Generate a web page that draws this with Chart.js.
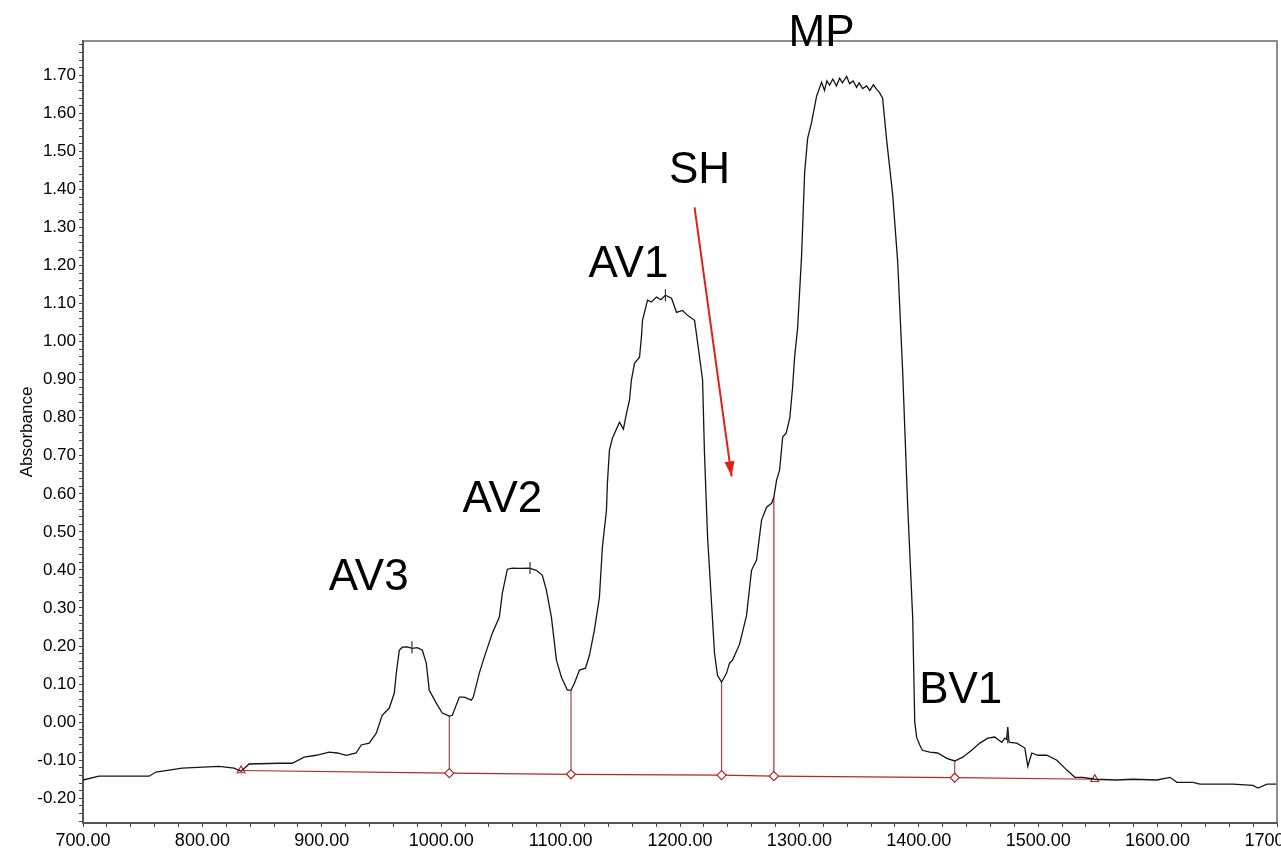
<!DOCTYPE html>
<html>
<head>
<meta charset="utf-8">
<title>Absorbance</title>
<script src="https://cdn.jsdelivr.net/npm/chart.js@4.4.1/dist/chart.umd.min.js"></script>
<style>
  html, body { margin: 0; padding: 0; background: #fff; }
</style>
</head>
<body>
<canvas id="absorbanceChart" width="1281" height="853"></canvas>
<script>
// spectrum trace
const specX = [700, 713.4, 755.3, 761.2, 783.0, 814.0, 826.6, 832.4, 839.1, 864.3, 875.2, 885.2, 895.3, 906.2, 912.9,
  920.5, 928.8, 933.0, 939.7, 945.6, 950.6, 956.5, 960.7, 962.4, 964.9, 967.4, 971.5, 975.8, 980.0, 984.2, 987.5,
  990.0, 995.9, 1000.9, 1006.8, 1009.3, 1015.2, 1019.4, 1025.2, 1026.9, 1031.9, 1036.1, 1042.8, 1048.7, 1051.2,
  1055.4, 1059.6, 1066.0, 1073.8, 1079.7, 1084.7, 1088.1, 1092.3, 1096.5, 1100.7, 1105.7, 1108.7, 1111.6, 1115.8,
  1120.8, 1124.1, 1128.3, 1132.5, 1135.0, 1138.4, 1139.2, 1140.9, 1143.4, 1149.3, 1152.6, 1155.2, 1157.7, 1159.3,
  1161.9, 1166.1, 1167.7, 1168.6, 1172.8, 1176.0, 1180.3, 1184.0, 1187.8, 1192.9, 1197.1, 1202.1, 1206.3, 1212.2,
  1216.4, 1218.9, 1220.5, 1223.1, 1226.4, 1228.9, 1231.4, 1234.8, 1239.0, 1241.5, 1244.0, 1249.9, 1255.7, 1259.9,
  1264.1, 1268.3, 1272.5, 1276.7, 1278.6, 1280.9, 1283.4, 1286.0, 1289.0, 1292.0, 1294.3, 1296.0, 1298.5, 1301.8,
  1304.4, 1306.9, 1310.2, 1314.4, 1318.6, 1321.0, 1323.0, 1325.3, 1328.0, 1331.0, 1333.7, 1336.0, 1339.6, 1342.0,
  1345.0, 1347.9, 1350.0, 1353.0, 1356.3, 1359.0, 1362.0, 1364.7, 1367.0, 1369.7, 1373.1, 1378.1, 1382.3, 1386.5,
  1390.7, 1394.9, 1396.6, 1398.2, 1400.8, 1403.0, 1409.1, 1415.8, 1423.4, 1430.1, 1436.8, 1444.3, 1451.1, 1457.8,
  1463.6, 1469.5, 1472.0, 1473.5, 1474.5, 1475.5, 1476.2, 1482.1, 1488.8, 1491.3, 1494.6, 1499.7, 1507.2, 1515.6,
  1524.0, 1530.7, 1537.4, 1547.4, 1565.9, 1579.3, 1599.4, 1610.3, 1616.2, 1629.6, 1635.5, 1663.1, 1679.9, 1684.1,
  1691.6, 1699.2];
const specY = [-0.152, -0.142, -0.142, -0.131, -0.121, -0.116, -0.121, -0.129, -0.110, -0.108, -0.108, -0.092, -0.087, -0.079, -0.081,
  -0.087, -0.081, -0.060, -0.055, -0.029, 0.018, 0.037, 0.076, 0.129, 0.189, 0.197, 0.198, 0.194, 0.196, 0.189, 0.155,
  0.084, 0.050, 0.024, 0.016, 0.018, 0.066, 0.066, 0.058, 0.066, 0.129, 0.171, 0.234, 0.276, 0.339,
  0.402, 0.405, 0.404, 0.405, 0.399, 0.386, 0.347, 0.276, 0.163, 0.118, 0.084, 0.084, 0.102, 0.137,
  0.142, 0.175, 0.242, 0.328, 0.460, 0.557, 0.628, 0.715, 0.746, 0.788, 0.770, 0.812, 0.846, 0.899,
  0.943, 0.959, 1.012, 1.056, 1.109, 1.104, 1.117, 1.110, 1.122, 1.114, 1.077, 1.082, 1.069, 1.056,
  0.959, 0.899, 0.707, 0.486, 0.313, 0.181, 0.123, 0.105, 0.129, 0.155, 0.163, 0.205, 0.280, 0.399,
  0.426, 0.531, 0.565, 0.575, 0.591, 0.636, 0.662, 0.749, 0.760, 0.800, 0.880, 0.960, 1.035, 1.224,
  1.445, 1.534, 1.576, 1.645, 1.682, 1.660, 1.685, 1.674, 1.690, 1.672, 1.692, 1.680, 1.697, 1.678,
  1.685, 1.668, 1.680, 1.665, 1.672, 1.660, 1.675, 1.663, 1.655, 1.640, 1.529, 1.387, 1.211, 0.920,
  0.568, 0.273, 0.000, -0.040, -0.060, -0.074, -0.079, -0.081, -0.095, -0.102, -0.092, -0.074, -0.055, -0.042,
  -0.039, -0.053, -0.042, -0.045, -0.013, -0.050, -0.053, -0.055, -0.068, -0.116, -0.081, -0.087, -0.087, -0.100,
  -0.126, -0.145, -0.145, -0.150, -0.152, -0.150, -0.152, -0.145, -0.158, -0.158, -0.163, -0.163, -0.166, -0.173,
  -0.163, -0.163];

// integration baseline, ends (triangles) and valley drops (diamonds)
const baseX = [832.4, 1006.8, 1108.7, 1234.8, 1278.6, 1430.1, 1547.4];
const baseY = [-0.127, -0.134, -0.137, -0.139, -0.142, -0.146, -0.150];
const dropTop = [null, 0.016, 0.084, 0.105, 0.591, -0.102, null];

// peak apex ticks
const apexX = [975.5, 1074.4, 1187.8, 1474.5];
const apexY = [0.197, 0.405, 1.122, -0.040];

// peak names
const peakNames = ['AV3', 'AV2', 'AV1', 'SH', 'MP', 'BV1'];
const peakNameX = [939.3, 1051.2, 1156.8, 1216.3, 1318.6, 1435.1];
const peakNameY = [0.347, 0.552, 1.169, 1.416, 1.776, 0.050];

// SH arrow
const arrowX = [1212.2, 1243.2];
const arrowY = [1.353, 0.646];

const xTickLabels = [700, 800, 900, 1000, 1100, 1200, 1300, 1400, 1500, 1600, 1700];
const yTickLabels = [-0.2, -0.1, 0, 0.1, 0.2, 0.3, 0.4, 0.5, 0.6, 0.7, 0.8, 0.9, 1.0, 1.1, 1.2, 1.3, 1.4, 1.5, 1.6, 1.7];

const FONT = '"Liberation Sans", Arial, sans-serif';

const xy = (xs, ys) => xs.map((x, i) => ({ x: x, y: ys[i] }));

const dropSets = [];
baseX.forEach((x, i) => {
    if (dropTop[i] === null) return;
    dropSets.push({
        type: 'line',
        data: [{ x: x, y: baseY[i] }, { x: x, y: dropTop[i] }],
        borderColor: i === 4 ? '#b22a2a' : '#a04848',
        borderWidth: 1.2,
        pointRadius: 0,
        order: 3
    });
});

const frame = {
    id: 'frame',
    beforeDatasetsDraw(chart) {
        const { ctx, chartArea: a } = chart;
        ctx.save();
        ctx.strokeStyle = '#6a6a6a';
        ctx.lineWidth = 1.5;
        ctx.beginPath();
        ctx.moveTo(a.left, a.top);
        ctx.lineTo(a.right, a.top);
        ctx.lineTo(a.right, a.bottom);
        ctx.stroke();
        ctx.restore();
    }
};

const notes = {
    id: 'notes',
    afterDraw(chart) {
        const { ctx, scales } = chart;
        const x = scales.x, y = scales.y;
        ctx.save();
        // arrow head
        const x0 = x.getPixelForValue(arrowX[0]), y0 = y.getPixelForValue(arrowY[0]);
        const x1 = x.getPixelForValue(arrowX[1]), y1 = y.getPixelForValue(arrowY[1]);
        const ang = Math.atan2(y1 - y0, x1 - x0);
        ctx.fillStyle = '#e0201b';
        ctx.translate(x1, y1);
        ctx.rotate(ang);
        ctx.beginPath();
        ctx.moveTo(0, 0);
        ctx.lineTo(-15, -5);
        ctx.lineTo(-15, 5);
        ctx.closePath();
        ctx.fill();
        ctx.restore();

        ctx.save();
        ctx.font = '44px ' + FONT;
        ctx.fillStyle = '#000';
        ctx.textAlign = 'center';
        ctx.textBaseline = 'alphabetic';
        peakNames.forEach((name, i) => {
            ctx.fillText(name, x.getPixelForValue(peakNameX[i]), y.getPixelForValue(peakNameY[i]));
        });
        ctx.restore();
    }
};

let chartInstance = null;

const renderChart = () => {
    const ctx = document.getElementById('absorbanceChart').getContext('2d');
    if (chartInstance) chartInstance.destroy();

    chartInstance = new Chart(ctx, {
        type: 'line',
        data: {
            datasets: [
                {
                    label: 'Absorbance',
                    data: xy(specX, specY),
                    borderColor: '#151515',
                    borderWidth: 1.3,
                    pointRadius: 0,
                    order: 1
                },
                {
                    label: 'Baseline',
                    data: xy(baseX, baseY),
                    borderColor: '#b02828',
                    borderWidth: 1.2,
                    pointStyle: baseX.map((v, i) => (i === 0 || i === baseX.length - 1) ? 'triangle' : 'rectRot'),
                    pointRadius: 4.5,
                    pointBackgroundColor: '#fff',
                    pointBorderColor: '#b02828',
                    pointBorderWidth: 1.2,
                    order: 2
                },
                ...dropSets,
                {
                    label: 'Apex',
                    data: xy(apexX, apexY),
                    showLine: false,
                    pointStyle: 'line',
                    rotation: 90,
                    pointRadius: 6,
                    pointBorderColor: '#333',
                    pointBorderWidth: 1.2,
                    order: 0
                },
                {
                    label: 'SH',
                    data: xy(arrowX, arrowY),
                    borderColor: '#e0201b',
                    borderWidth: 2,
                    pointRadius: 0,
                    order: 0
                }
            ]
        },
        options: {
            responsive: false,
            animation: false,
            layout: { padding: { top: 41, right: 4, left: 0, bottom: 0 }, autoPadding: false },
            plugins: {
                legend: { display: false },
                tooltip: { enabled: false }
            },
            scales: {
                x: {
                    type: 'linear',
                    min: 700,
                    max: 1700,
                    afterFit: (s) => {
                        s.height = 30;
                        // let the last label run off the canvas like the original
                        s.paddingLeft = 0;
                        s.paddingRight = 0;
                    },
                    afterBuildTicks: (s) => {
                        const t = [];
                        for (let v = 700; v <= 1700; v += 20) t.push({ value: v });
                        s.ticks = t;
                    },
                    grid: { drawOnChartArea: false, tickLength: 4, tickColor: '#444', tickWidth: 1 },
                    border: { color: '#555', width: 2 },
                    ticks: {
                        autoSkip: false,
                        maxRotation: 0,
                        padding: 3,
                        color: '#000',
                        font: { family: FONT, size: 18 },
                        callback: (v) => xTickLabels.includes(v) ? v.toFixed(2) : ''
                    }
                },
                y: {
                    type: 'linear',
                    min: -0.265,
                    max: 1.79,
                    afterFit: (s) => {
                        s.width = 83;
                        s.paddingTop = 0;
                        s.paddingBottom = 0;
                    },
                    afterBuildTicks: (s) => {
                        const t = [];
                        for (let i = -13; i <= 89; i++) t.push({ value: i / 50 });
                        s.ticks = t;
                    },
                    grid: { drawOnChartArea: false, tickLength: 4, tickColor: '#444', tickWidth: 1 },
                    border: { color: '#555', width: 2 },
                    title: {
                        display: true,
                        text: 'Absorbance',
                        color: '#000',
                        font: { family: FONT, size: 17 },
                        padding: { top: 17, bottom: 0 }
                    },
                    ticks: {
                        autoSkip: false,
                        padding: 3,
                        color: '#000',
                        font: { family: FONT, size: 17 },
                        callback: (v) => {
                            const hit = yTickLabels.find((l) => Math.abs(l - v) < 1e-6);
                            return hit === undefined ? '' : hit.toFixed(2);
                        }
                    }
                }
            }
        },
        plugins: [frame, notes]
    });
};

renderChart();
</script>
</body>
</html>
